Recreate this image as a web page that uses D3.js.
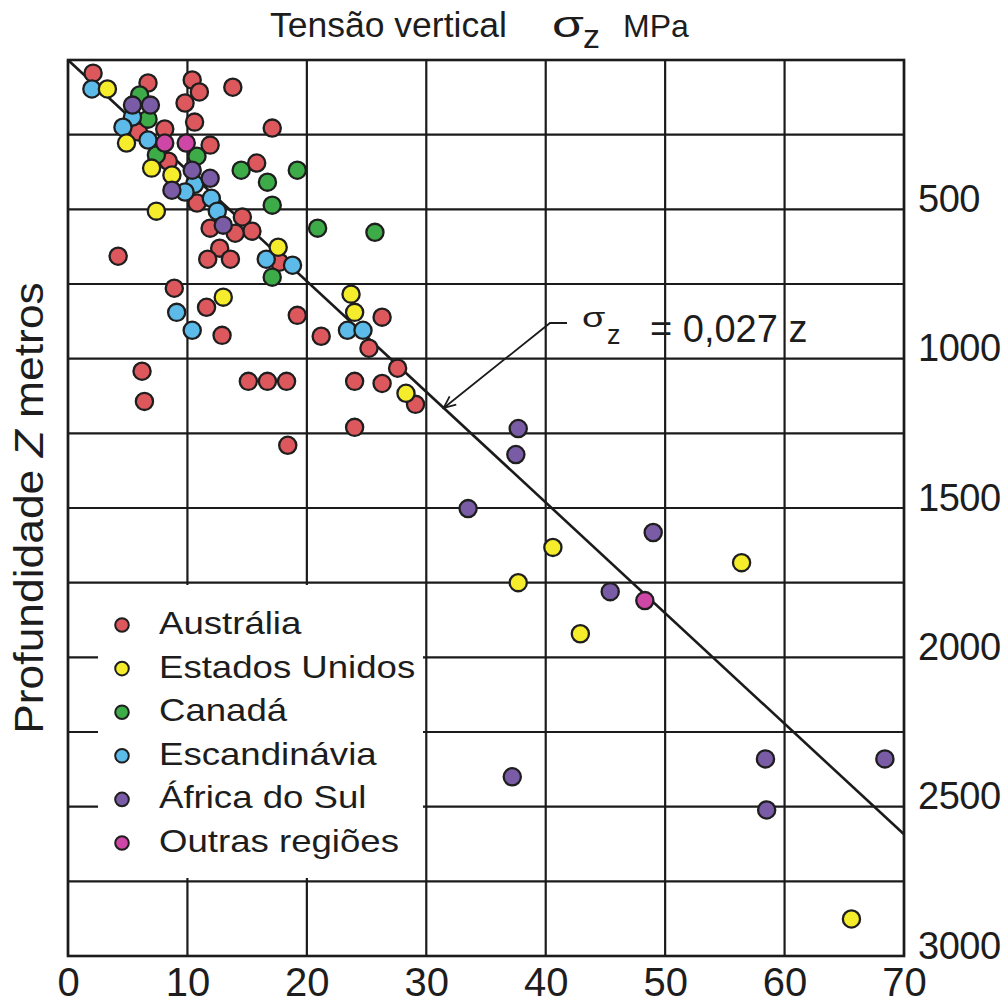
<!DOCTYPE html>
<html>
<head>
<meta charset="utf-8">
<script src="https://cdn.jsdelivr.net/npm/d3@7"></script>
<style>
  body { margin: 0; background: #fff; }
  svg { display: block; }
  text { font-family: "Liberation Sans", Arial, sans-serif; fill: #1d1d1d; }
</style>
</head>
<body>
<svg id="chart" width="1003" height="1003"></svg>
<script>
// ---------- data (σz in MPa, depth z in metres) ----------
const xTickValues = [0, 10, 20, 30, 40, 50, 60, 70];
const yGridValues = [0, 250, 500, 750, 1000, 1250, 1500, 1750, 2000, 2250, 2500, 2750, 3000];
const yTickLabels = [500, 1000, 1500, 2000, 2500, 3000];
const regionNames = ["Austrália", "Estados Unidos", "Canadá", "Escandinávia", "África do Sul", "Outras regiões"];
const regionColors = ["#dd585d", "#f5ed2b", "#3eab49", "#5dbbe9", "#7a5ca6", "#cf47a6"];
const fitSlope = 0.027;       // σz = 0,027 z
const fitSigmaRange = [0, 70];
const arrowDepth = 1165;

const australia = [[2.1,44],[6.7,77],[10.4,67],[11.0,107],[9.8,144],[10.6,208],[13.8,91],[17.1,228],
  [5.9,241],[8.1,231],[8.4,339],[11.9,285],[15.8,345],[10.8,479],[14.6,526],[15.4,573],[11.9,563],
  [14.0,580],[12.7,630],[11.7,667],[13.6,667],[4.2,657],[17.7,677],[8.9,764],[11.6,828],[12.9,922],
  [19.2,855],[21.2,925],[26.3,861],[25.2,965],[27.6,1032],[6.2,1042],[6.4,1143],[15.1,1076],
  [16.7,1076],[18.3,1076],[24.0,1076],[26.3,1083],[29.1,1153],[24.0,1230],[18.4,1290]];
const canada = [[6.0,117],[6.7,198],[7.4,318],[10.8,322],[14.5,369],[19.2,369],[16.7,409],[17.1,486],
  [20.9,563],[25.7,577],[17.1,727]];
const escandinavia = [[2.0,97],[5.4,191],[4.6,225],[6.7,268],[10.6,416],[9.8,442],[12.0,463],[12.5,506],
  [16.6,667],[18.8,687],[9.1,845],[10.4,905],[23.4,905],[24.7,905]];
const estadosUnidos = [[3.3,97],[4.9,278],[7.0,362],[8.7,385],[7.4,506],[17.6,627],[13.0,794],[23.7,784],
  [24.0,845],[28.3,1116],[40.6,1632],[56.4,1683],[37.7,1750],[42.9,1921],[65.6,2876]];
const africaDoSul = [[5.4,151],[6.9,151],[10.4,369],[11.9,396],[8.7,436],[13.0,553],[37.7,1234],[37.5,1321],
  [33.5,1502],[49.0,1582],[45.4,1780],[37.2,2400],[58.4,2340],[68.4,2340],[58.5,2511]];
const outras = [[8.1,278],[9.9,278],[48.3,1810]];

// draw order and the region index each array belongs to
const seriesList = [
  {data: australia, idx: 0},
  {data: canada, idx: 2},
  {data: escandinavia, idx: 3},
  {data: estadosUnidos, idx: 1},
  {data: africaDoSul, idx: 4},
  {data: outras, idx: 5}
];

// ---------- layout ----------
const L = 68, R = 904, T = 60, B = 956;
const x = d3.scaleLinear().domain([0, 70]).range([L, R]);
const y = d3.scaleLinear().domain([0, 3000]).range([T, B]);
const ink = "#1b1b1b";

const svg = d3.select("#chart");

// gridlines
svg.append("g").selectAll("line").data(xTickValues).join("line")
  .attr("x1", d => x(d)).attr("x2", d => x(d)).attr("y1", T).attr("y2", B)
  .attr("stroke", ink).attr("stroke-width", 2.2);
svg.append("g").selectAll("line").data(yGridValues).join("line")
  .attr("x1", L).attr("x2", R).attr("y1", d => y(d)).attr("y2", d => y(d))
  .attr("stroke", ink).attr("stroke-width", 2.2);

// legend background (covers grid)
svg.append("rect").attr("x", 98).attr("y", 585).attr("width", 325).attr("height", 293).attr("fill", "#fff");

// frame
svg.append("rect").attr("x", L).attr("y", T).attr("width", R - L).attr("height", B - T)
  .attr("fill", "none").attr("stroke", ink).attr("stroke-width", 2.6);

// fitted line
const fitLine = d3.line().x(s => x(s)).y(s => y(s / fitSlope));
svg.append("path").attr("d", fitLine(fitSigmaRange))
  .attr("fill", "none").attr("stroke", ink).attr("stroke-width", 2.6);

// points
const pts = svg.append("g");
seriesList.forEach(s => {
  pts.append("g").selectAll("circle").data(s.data).join("circle")
    .attr("cx", d => x(d[0])).attr("cy", d => y(d[1])).attr("r", 8.6)
    .attr("fill", regionColors[s.idx]).attr("stroke", "#1e1e1e").attr("stroke-width", 2.3);
});

// x axis labels
const xAxis = d3.axisBottom(x).tickValues(xTickValues).tickSize(0).tickPadding(12).tickFormat(d3.format("d"));
const gx = svg.append("g").attr("transform", `translate(0,${B})`).call(xAxis);
gx.select(".domain").remove();
gx.selectAll("text").attr("font-size", 40).attr("font-family", "Liberation Sans, Arial, sans-serif").attr("fill", "#1d1d1d");

// y axis labels (right side)
const yAxis = d3.axisRight(y).tickValues(yTickLabels).tickSize(0).tickPadding(14).tickFormat(d3.format("d"));
const gy = svg.append("g").attr("transform", `translate(${R},0)`).call(yAxis);
gy.select(".domain").remove();
gy.selectAll("text").attr("font-size", 38).attr("dy", "0.06em").attr("letter-spacing", -0.5)
  .attr("font-family", "Liberation Sans, Arial, sans-serif").attr("fill", "#1d1d1d");

// title
svg.append("text").attr("x", 270).attr("y", 37).attr("font-size", 35.5).text("Tensão vertical");
svg.append("text").attr("font-size", 37).attr("transform", "translate(552,37) scale(1.4,1)").text("σ");
svg.append("text").attr("x", 583).attr("y", 48).attr("font-size", 34).text("z");
svg.append("text").attr("x", 623).attr("y", 37).attr("font-size", 32).text("MPa");

// y axis title
const yt = svg.append("text").attr("text-anchor", "middle").attr("font-size", 40)
  .attr("transform", "translate(43,508) rotate(-90) scale(1.11,1)");
yt.append("tspan").text("Profundidade ");
yt.append("tspan").attr("font-style", "italic").text("Z");
yt.append("tspan").text(" metros");

// annotation
const tipX = x(arrowDepth * fitSlope), tipY = y(arrowDepth);
const elbow = [550, 323];
svg.append("path").attr("d", `M${tipX},${tipY}L${elbow[0]},${elbow[1]}L567,${elbow[1]}`)
  .attr("fill", "none").attr("stroke", ink).attr("stroke-width", 1.8);
{
  const dx = elbow[0] - tipX, dy = elbow[1] - tipY, len = Math.hypot(dx, dy);
  const ux = dx / len, uy = dy / len, a = 0.42, l = 13;
  const w1 = [tipX + l * (ux * Math.cos(a) - uy * Math.sin(a)), tipY + l * (ux * Math.sin(a) + uy * Math.cos(a))];
  const w2 = [tipX + l * (ux * Math.cos(-a) - uy * Math.sin(-a)), tipY + l * (ux * Math.sin(-a) + uy * Math.cos(-a))];
  svg.append("path").attr("d", `M${w1}L${tipX},${tipY}L${w2}`)
    .attr("fill", "none").attr("stroke", ink).attr("stroke-width", 1.8);
}
svg.append("text").attr("font-size", 28).attr("transform", "translate(582,327) scale(1.35,1)").text("σ");
svg.append("text").attr("x", 607).attr("y", 344).attr("font-size", 27).text("z");
svg.append("text").attr("x", 650).attr("y", 342).attr("font-size", 38).text("= 0,027 z");

// legend
const lg = svg.append("g");
regionNames.forEach((name, i) => {
  const cy = 625 + i * 43.6;
  lg.append("circle").attr("cx", 122).attr("cy", cy).attr("r", 6.8)
    .attr("fill", regionColors[i]).attr("stroke", "#1e1e1e").attr("stroke-width", 2);
  lg.append("text").attr("font-size", 30.5)
    .attr("transform", `translate(159,${cy + 9}) scale(1.2,1)`).text(name);
});
</script>
</body>
</html>
